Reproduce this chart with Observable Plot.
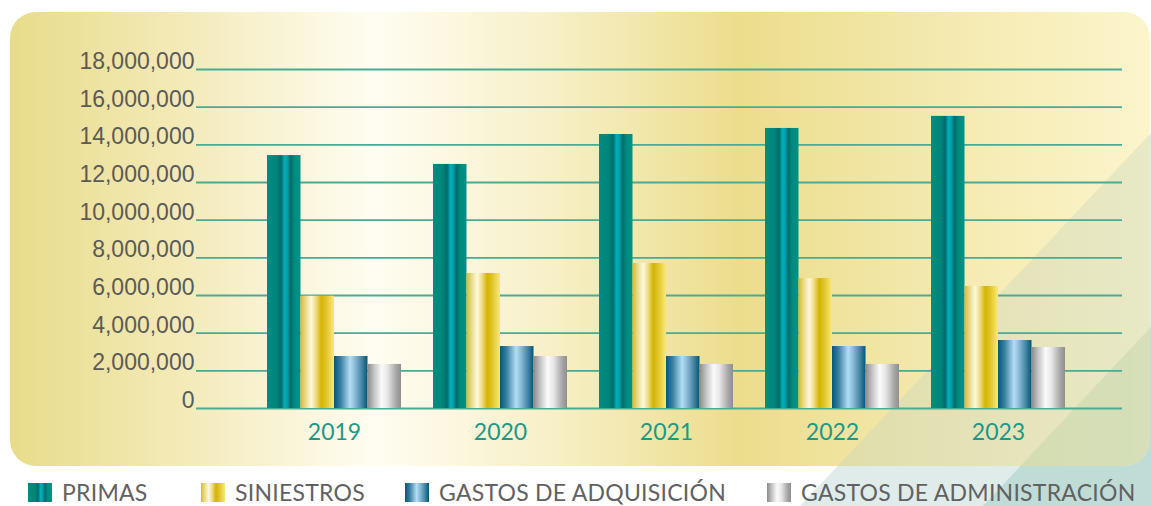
<!DOCTYPE html>
<html>
<head>
<meta charset="utf-8">
<script src="https://cdn.jsdelivr.net/npm/d3@7"></script>
<script src="https://cdn.jsdelivr.net/npm/@observablehq/plot@0.6"></script>
<style>
  html, body { margin: 0; padding: 0; background: #fff; }
  #wrap { position: relative; width: 1151px; height: 506px; overflow: hidden; background: #fff; }
  .abs { position: absolute; }
  #out1 { left: 0; top: 0; width: 1151px; height: 506px; background: #e0ecea;
          clip-path: polygon(1151px 133px, 1151px 506px, 800px 506px); }
  #out2 { left: 0; top: 0; width: 1151px; height: 506px; background: #bfdcd6;
          clip-path: polygon(1151px 327px, 1151px 506px, 983px 506px); }
  #panel { left: 10px; top: 12px; width: 1140px; height: 454px; border-radius: 26px; overflow: hidden;
           background: linear-gradient(90deg, #e8dc8a 0%, #f3eab8 15%, #fffdf2 32%, #f7efc6 48%, #ecdd8c 64%, #f3e8ac 80%, #fcf5cc 100%); }
  #in1 { left: 0; top: 0; width: 1140px; height: 454px; background: rgba(200,212,190,0.38);
         clip-path: polygon(1141px 121px, 1141px 494px, 790px 494px); }
  #in2 { left: 0; top: 0; width: 1140px; height: 454px; background: rgba(180,206,160,0.35);
         clip-path: polygon(1141px 315px, 1141px 494px, 973px 494px); }
  #grid, #chart { left: 0; top: 0; }
  #legend { left: 0; top: 470px; width: 1151px; box-sizing: border-box; padding: 11px 0 0 28px;
            display: flex; align-items: center;
            font-family: Lato, "Open Sans", sans-serif; font-size: 23px; line-height: 23px;
            letter-spacing: 0.25px; color: #616161; }
  .item { display: flex; align-items: center; white-space: nowrap; flex: none; }
  .item:nth-child(1) { width: 173px; }
  .item:nth-child(2) { width: 204px; }
  .item:nth-child(3) { width: 362px; }
  .sw { display: inline-block; width: 24px; height: 19px; margin-right: 10px; }
</style>
</head>
<body>
<div id="wrap">
  <div id="out1" class="abs"></div>
  <div id="out2" class="abs"></div>
  <div id="panel" class="abs">
    <div id="in1" class="abs"></div>
    <div id="in2" class="abs"></div>
  </div>
  <div id="grid" class="abs"></div>
  <div id="chart" class="abs"></div>
  <div id="legend" class="abs"></div>
</div>
<script>
// ---- data ----
const years = ["2019", "2020", "2021", "2022", "2023"];
const series = ["PRIMAS", "SINIESTROS", "GASTOS DE ADQUISICIÓN", "GASTOS DE ADMINISTRACIÓN"];
const primas = [13430000, 12960000, 14550000, 14870000, 15510000];
const siniestros = [5960000, 7170000, 7700000, 6900000, 6480000];
const gastosAdquisicion = [2760000, 3290000, 2760000, 3290000, 3610000];
const gastosAdministracion = [2340000, 2760000, 2340000, 2340000, 3240000];
const yTicks = [0, 2000000, 4000000, 6000000, 8000000, 10000000, 12000000, 14000000, 16000000, 18000000];

// ---- styles ----
const gradIds = ["g-primas", "g-siniestros", "g-adq", "g-adm"];
const gradStops = [
  [[0,"#008c82"],[0.3,"#008479"],[0.42,"#006b6a"],[0.52,"#00aeba"],[0.6,"#00a3ab"],[0.7,"#006d6b"],[0.82,"#008a80"],[1,"#009387"]],
  [[0,"#d3bb2c"],[0.15,"#e8da8a"],[0.32,"#fff8dc"],[0.45,"#efe090"],[0.62,"#d3b400"],[0.78,"#e2c630"],[1,"#fae97a"]],
  [[0,"#00587a"],[0.2,"#3c7fa2"],[0.48,"#b2def6"],[0.62,"#8cbcd8"],[0.85,"#3f7f9f"],[1,"#005678"]],
  [[0,"#8a8a8a"],[0.2,"#c4c4c4"],[0.42,"#fbfbfb"],[0.6,"#e6e6e6"],[0.85,"#a8a8a8"],[1,"#8e8e8e"]]
];

const seriesValues = [primas, siniestros, gastosAdquisicion, gastosAdministracion];
const rows = years.flatMap((year, i) => series.map((s, j) => ({year, series: s, value: seriesValues[j][i]})));

const frame = {
  width: 1151, height: 470,
  marginLeft: 196, marginRight: 29, marginTop: 69, marginBottom: 62,
  style: {background: "transparent", fontFamily: "Lato", overflow: "visible"}
};
const yScale = {domain: [0, 18000000], axis: null, label: null};

// layer 1: horizontal grid + y axis labels (unfaceted, spans the whole frame)
const gridPlot = Plot.plot({
  ...frame,
  y: yScale,
  marks: [
    Plot.ruleY(yTicks, {y: d => d, stroke: "#48ab94", strokeWidth: 1.8}),
    Plot.axisY(yTicks, {
      anchor: "left", tickSize: 0, tickPadding: 2, tickFormat: d3.format(","),
      fontSize: 23, fontFamily: "Liberation Sans, Arial, sans-serif", fill: "#5a5a5a", dy: -8, label: null
    })
  ]
});
document.getElementById("grid").appendChild(gridPlot);

// layer 2: grouped bars faceted by year
const chart = Plot.plot({
  ...frame,
  fx: {domain: years, paddingInner: 0.19, paddingOuter: 0.374, align: 0.553, axis: null, label: null},
  x: {domain: series, padding: 0, round: false, axis: null, label: null},
  y: yScale,
  color: {type: "ordinal", domain: series, range: gradIds.map(id => `url(#${id})`)},
  marks: [
    Plot.barY(rows, {fx: "year", x: "series", y: "value", fill: "series"}),
    Plot.axisFx({
      anchor: "bottom", tickSize: 0, tickPadding: 15,
      fontSize: 23, fontFamily: "Lato, sans-serif", fill: "#1a998a", label: null
    })
  ]
});

const defs = d3.select(chart).insert("defs", ":first-child");
gradIds.forEach((id, k) => {
  const g = defs.append("linearGradient").attr("id", id).attr("x1", 0).attr("x2", 1).attr("y1", 0).attr("y2", 0);
  gradStops[k].forEach(([o, c]) => g.append("stop").attr("offset", o).attr("stop-color", c));
});
document.getElementById("chart").appendChild(chart);

// legend
const legend = d3.select("#legend");
series.forEach((s, k) => {
  const item = legend.append("div").attr("class", "item");
  item.append("span").attr("class", "sw")
    .style("background", `linear-gradient(90deg, ${gradStops[k].map(([o, c]) => `${c} ${o * 100}%`).join(", ")})`);
  item.append("span").text(s);
});
</script>
</body>
</html>
